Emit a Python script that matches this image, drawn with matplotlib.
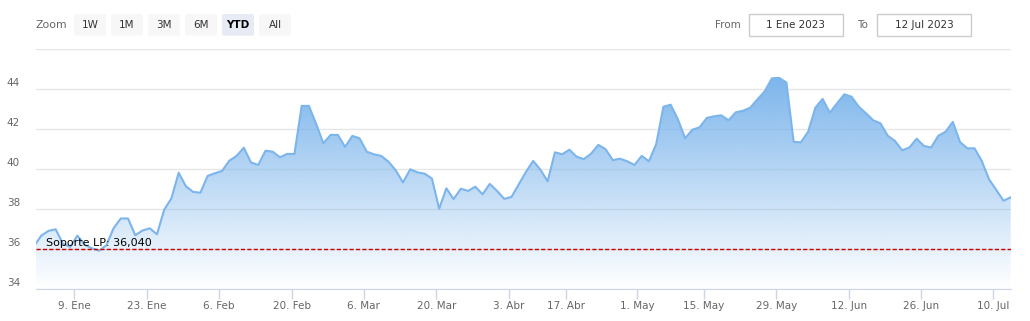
import numpy as np
import pandas as pd
import matplotlib
matplotlib.use('Agg')
import matplotlib.pyplot as plt
from matplotlib.colors import to_rgb
from matplotlib.patches import FancyBboxPatch, Rectangle

# trading days shown (Dec 30 sits just left of the 1 Ene axis start)
holidays = ['2023-04-06', '2023-04-07', '2023-05-01']
dates = pd.bdate_range('2022-12-30', '2023-07-12')
dates = dates[~dates.isin(pd.to_datetime(holidays))]

prices = [
    36.15, 36.68, 36.92, 37.00, 36.28, 36.12, 36.68, 36.23, 36.05, 35.93,
    36.20, 37.05, 37.54, 37.54, 36.70, 36.94, 37.05, 36.75, 37.98, 38.55,
    39.83, 39.15, 38.87, 38.83, 39.67, 39.80, 39.92, 40.43, 40.67, 41.08,
    40.34, 40.22, 40.93, 40.88, 40.60, 40.77, 40.77, 43.17, 43.17, 42.27,
    41.30, 41.72, 41.72, 41.12, 41.67, 41.55, 40.88, 40.75, 40.67, 40.38,
    39.95, 39.34, 40.00, 39.85, 39.78, 39.54, 38.03, 39.05, 38.51, 39.03,
    38.92, 39.13, 38.75, 39.27, 38.92, 38.52, 38.62, 39.25, 39.87, 40.42,
    39.98, 39.40, 40.85, 40.75, 40.98, 40.63, 40.51, 40.78, 41.22, 41.01,
    40.46, 40.53, 40.40, 40.22, 40.67, 40.40, 41.26, 43.13, 43.23, 42.50,
    41.55, 41.98, 42.10, 42.57, 42.65, 42.70, 42.45, 42.85, 42.93, 43.08,
    43.50, 43.90, 44.55, 44.57, 44.34, 41.37, 41.35, 41.88, 43.08, 43.52,
    42.83, 43.30, 43.75, 43.63, 43.13, 42.80, 42.45, 42.30, 41.68, 41.42,
    40.95, 41.09, 41.53, 41.17, 41.09, 41.68, 41.88, 42.37, 41.36, 41.05,
    41.05, 40.42, 39.50, 38.97, 38.43, 38.60,
]

support = 36.04
support_label = 'Soporte LP: 36,040'
months_es = ['Ene', 'Feb', 'Mar', 'Abr', 'May', 'Jun', 'Jul']
tick_dates = pd.date_range('2023-01-09', '2023-07-10', freq='14D')
y_ticks = [34, 36, 38, 40, 42, 44, 46]
range_buttons = ['1W', '1M', '3M', '6M', 'YTD', 'All']
selected = 'YTD'
date_from = '1 Ene 2023'
date_to = '12 Jul 2023'

blue = '#7cb5ec'
grey_txt = '#666666'

vals = np.array(prices)
idx = np.arange(len(vals))

fig = plt.figure(figsize=(10.30, 3.21), dpi=100)
ax = fig.add_axes([36 / 1030, (321 - 289.3) / 321, 975 / 1030, 240 / 321])

# gradient fill under the line
grad = np.zeros((256, 1, 4))
grad[..., :3] = to_rgb(blue)
grad[..., 3] = np.linspace(1, 0, 256)[:, None]
poly = ax.fill_between(idx, vals, 34, facecolor='none', edgecolor='none')
im = ax.imshow(grad, extent=[idx[0], idx[-1], 34, vals.max()], aspect='auto',
               origin='upper', zorder=1, interpolation='bilinear')
im.set_clip_path(poly.get_paths()[0], transform=ax.transData)
ax.plot(idx, vals, color=blue, lw=1.5, zorder=3, solid_joinstyle='round')

ax.axhline(support, color='#cc0000', lw=1, ls=(0, (3, 1.6)), zorder=4)
ax.annotate(support_label, xy=(10 / 975, support), xycoords=('axes fraction', 'data'),
            xytext=(0, 2), textcoords='offset points', ha='left', va='baseline',
            fontsize=8, color='black', zorder=5)

ax.set_xlim(0.28, 135.04)
ax.set_ylim(34, 46)

# y grid + left aligned labels sitting above the lines
ax.set_yticks(y_ticks)
ax.yaxis.grid(True, color='#e6e6e6', lw=1, zorder=0)
ax.set_axisbelow(True)
ax.tick_params(axis='y', length=0, labelleft=False)
for v in y_ticks[:-1]:
    ax.annotate(str(v), xy=(0, v), xycoords=('axes fraction', 'data'),
                xytext=(-21, 4.3), textcoords='offset points', ha='left',
                va='center', fontsize=7.5, color=grey_txt)

# ordinal x axis, ticks on Mondays
date_days = dates.values.astype('datetime64[h]').astype(float) / 24
tick_days = tick_dates.values.astype('datetime64[h]').astype(float) / 24
tick_pos = np.interp(tick_days, date_days, idx) - 0.4
ax.set_xticks(tick_pos)
ax.set_xticklabels([f'{d.day}. {months_es[d.month - 1]}' for d in tick_dates])
ax.tick_params(axis='x', length=7, width=1, color='#ccd6eb', pad=1.5,
               labelsize=7.5, labelcolor=grey_txt)

for s in ['top', 'left', 'right']:
    ax.spines[s].set_visible(False)
ax.spines['bottom'].set_color('#ccd6eb')
ax.spines['bottom'].set_zorder(6)

# range selector overlay, in pixel units
ov = fig.add_axes([0, 0, 1, 1])
ov.set_xlim(0, 1030)
ov.set_ylim(321, 0)
ov.axis('off')
ov.patch.set_visible(False)

ov.text(36, 25, 'Zoom', ha='left', va='center', fontsize=7.8, color=grey_txt)
for k, lab in enumerate(range_buttons):
    x0 = 74 + 37 * k
    sel = lab == selected
    ov.add_patch(FancyBboxPatch((x0 + 1, 15), 30, 19.7,
                                boxstyle='round,pad=1,rounding_size=2',
                                facecolor='#e6ebf5' if sel else '#f7f7f7',
                                edgecolor='none'))
    ov.text(x0 + 16, 25, lab, ha='center', va='center', fontsize=7.5,
            color='black' if sel else '#333333',
            fontweight='bold' if sel else 'normal')

ov.text(741, 25, 'From', ha='right', va='center', fontsize=7.5, color=grey_txt)
ov.add_patch(Rectangle((749, 14), 94, 21.5, facecolor='white', edgecolor='#cccccc', lw=1))
ov.text(796, 25, date_from, ha='center', va='center', fontsize=7.5, color='#333333')
ov.text(868, 25, 'To', ha='right', va='center', fontsize=7.5, color=grey_txt)
ov.add_patch(Rectangle((877, 14), 94, 21.5, facecolor='white', edgecolor='#cccccc', lw=1))
ov.text(924, 25, date_to, ha='center', va='center', fontsize=7.5, color='#333333')

fig.savefig('out.png', dpi=100)
